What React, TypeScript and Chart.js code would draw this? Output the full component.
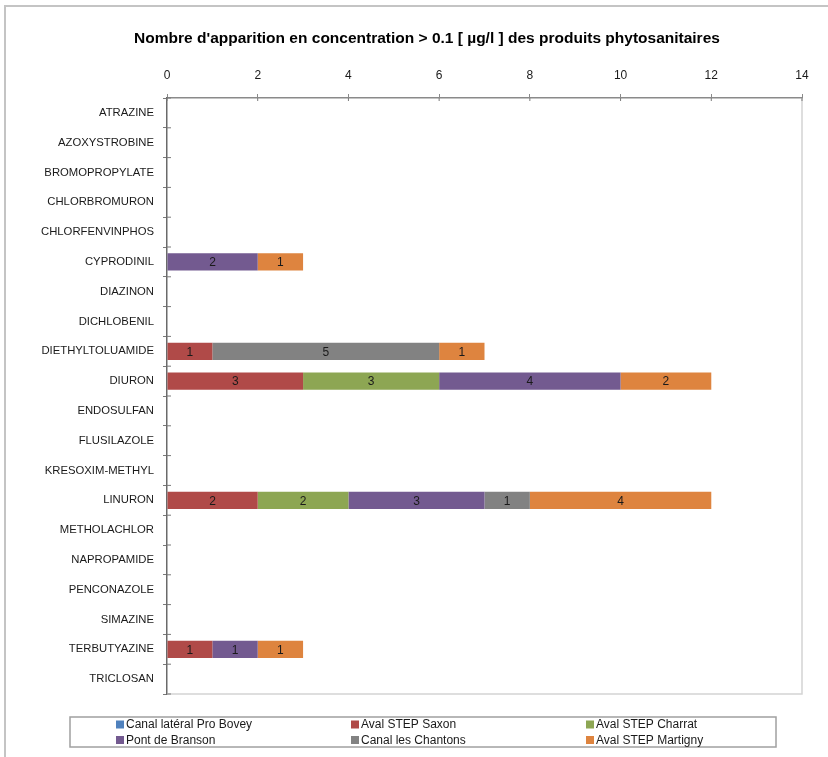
import React, { useEffect, useRef } from "react";
import { Chart, registerables } from "chart.js";

Chart.register(...registerables);

const TITLE = "Nombre d'apparition en concentration > 0.1 [ µg/l ] des produits phytosanitaires";

const categories = [
  "ATRAZINE", "AZOXYSTROBINE", "BROMOPROPYLATE", "CHLORBROMURON", "CHLORFENVINPHOS",
  "CYPRODINIL", "DIAZINON", "DICHLOBENIL", "DIETHYLTOLUAMIDE", "DIURON",
  "ENDOSULFAN", "FLUSILAZOLE", "KRESOXIM-METHYL", "LINURON", "METHOLACHLOR",
  "NAPROPAMIDE", "PENCONAZOLE", "SIMAZINE", "TERBUTYAZINE", "TRICLOSAN",
];

const canalLateral = [0, 0, 0, 0, 0, 0, 0, 0, 0, 0, 0, 0, 0, 0, 0, 0, 0, 0, 0, 0];
const avalSaxon = [0, 0, 0, 0, 0, 0, 0, 0, 1, 3, 0, 0, 0, 2, 0, 0, 0, 0, 1, 0];
const avalCharrat = [0, 0, 0, 0, 0, 0, 0, 0, 0, 3, 0, 0, 0, 2, 0, 0, 0, 0, 0, 0];
const pontBranson = [0, 0, 0, 0, 0, 2, 0, 0, 0, 4, 0, 0, 0, 3, 0, 0, 0, 0, 1, 0];
const canalChantons = [0, 0, 0, 0, 0, 0, 0, 0, 5, 0, 0, 0, 0, 1, 0, 0, 0, 0, 0, 0];
const avalMartigny = [0, 0, 0, 0, 0, 1, 0, 0, 1, 2, 0, 0, 0, 4, 0, 0, 0, 0, 1, 0];

const seriesNames = [
  "Canal latéral Pro Bovey", "Aval STEP Saxon", "Aval STEP Charrat",
  "Pont de Branson", "Canal les Chantons", "Aval STEP Martigny",
];
const seriesValues = [canalLateral, avalSaxon, avalCharrat, pontBranson, canalChantons, avalMartigny];
const seriesColors = ["#4F81BD", "#B04A48", "#8DA653", "#735A90", "#828282", "#DE843F"];

const xTicks = [0, 2, 4, 6, 8, 10, 12, 14];

const FONT = "'Liberation Sans', Arial, sans-serif";

const decorPlugin = {
  id: "decor",
  beforeDraw(chart: any) {
    const ctx = chart.ctx;
    ctx.save();
    ctx.fillStyle = "#ffffff";
    ctx.fillRect(0, 0, chart.width, chart.height);
    // outer frame
    ctx.strokeStyle = "#C4C4C4";
    ctx.lineWidth = 2;
    ctx.beginPath();
    ctx.moveTo(5, chart.height);
    ctx.lineTo(5, 6);
    ctx.lineTo(chart.width, 6);
    ctx.stroke();
    // title
    ctx.fillStyle = "#000";
    ctx.font = `bold 15.5px ${FONT}`;
    ctx.textAlign = "center";
    ctx.textBaseline = "middle";
    ctx.fillText(TITLE, 427, 39);
    ctx.restore();
  },
  afterDatasetsDraw(chart: any) {
    const ctx = chart.ctx;
    const ca = chart.chartArea;
    ctx.save();
    // right and bottom plot frame
    ctx.strokeStyle = "#D4D4D4";
    ctx.lineWidth = 1.5;
    ctx.beginPath();
    ctx.moveTo(ca.right, ca.top);
    ctx.lineTo(ca.right, ca.bottom);
    ctx.lineTo(ca.left, ca.bottom);
    ctx.stroke();
    // data labels
    ctx.fillStyle = "#1a1a1a";
    ctx.font = `12px ${FONT}`;
    ctx.textAlign = "center";
    ctx.textBaseline = "middle";
    chart.data.datasets.forEach((ds: any, di: number) => {
      const meta = chart.getDatasetMeta(di);
      meta.data.forEach((el: any, i: number) => {
        const v = ds.data[i];
        if (!v) return;
        const x = (el.x + el.base) / 2;
        ctx.fillText(String(v), x, el.y + 1);
      });
    });
    // cross ticks on y axis (right side)
    const ys = chart.scales.y;
    ctx.strokeStyle = "#7a7a7a";
    ctx.lineWidth = 1;
    for (let i = 0; i <= categories.length; i++) {
      const y = ys.top + (i * (ys.bottom - ys.top)) / categories.length;
      ctx.beginPath();
      ctx.moveTo(ca.left, y);
      ctx.lineTo(ca.left + 4, y);
      ctx.stroke();
    }
    const xs = chart.scales.x;
    xTicks.forEach((t) => {
      const x = xs.getPixelForValue(t);
      ctx.beginPath();
      ctx.moveTo(x, ca.top);
      ctx.lineTo(x, ca.top + 3);
      ctx.stroke();
    });
    // legend
    ctx.strokeStyle = "#A0A0A0";
    ctx.lineWidth = 1.5;
    ctx.strokeRect(70, 717, 706, 30);
    const colX = [116, 351, 586];
    const rowY = [724.5, 740];
    ctx.font = `12px ${FONT}`;
    ctx.textAlign = "left";
    ctx.textBaseline = "middle";
    chart.data.datasets.forEach((ds: any, di: number) => {
      const cx = colX[di % 3];
      const cy = rowY[Math.floor(di / 3)];
      ctx.fillStyle = ds.backgroundColor;
      ctx.fillRect(cx, cy - 4, 8, 8);
      ctx.fillStyle = "#1a1a1a";
      ctx.fillText(ds.label, cx + 10, cy + 0.5);
    });
    ctx.restore();
  },
};

export default function App() {
  const ref = useRef<HTMLCanvasElement | null>(null);
  useEffect(() => {
    if (!ref.current) return;
    const chart = new Chart(ref.current, {
      type: "bar",
      data: {
        labels: categories,
        datasets: seriesNames.map((name, i) => ({
          label: name,
          data: seriesValues[i],
          backgroundColor: seriesColors[i],
          borderWidth: 0,
          categoryPercentage: 1,
          barPercentage: 0.58,
        })),
      },
      options: {
        indexAxis: "y",
        animation: false,
        responsive: false,
        maintainAspectRatio: false,
        layout: { padding: { left: 0, top: 0, right: 26, bottom: 63 } },
        plugins: {
          legend: { display: false },
          title: { display: false },
          tooltip: { enabled: false },
        },
        scales: {
          x: {
            position: "top",
            stacked: true,
            min: 0,
            max: 14,
            afterBuildTicks: (scale: any) => {
              scale.ticks = xTicks.map((v) => ({ value: v }));
            },
            afterFit: (scale: any) => {
              scale.height = 98;
            },
            grid: { drawOnChartArea: false, drawTicks: true, tickLength: 4, color: "#8a8a8a" },
            border: { display: true, color: "#8a8a8a", width: 1.5 },
            ticks: { font: { family: FONT, size: 12 }, color: "#1a1a1a", padding: 11 },
          },
          y: {
            stacked: true,
            afterFit: (scale: any) => {
              scale.width = 167;
            },
            grid: { drawOnChartArea: false, drawTicks: true, tickLength: 4, color: "#7a7a7a", offset: true },
            border: { display: true, color: "#6a6a6a", width: 1.5 },
            ticks: { font: { family: FONT, size: 11.3 }, color: "#1a1a1a", padding: 9, autoSkip: false },
          },
        },
      },
      plugins: [decorPlugin],
    });
    return () => chart.destroy();
  }, []);
  return (
    <div style={{ position: "fixed", left: 0, top: 0, width: 828, height: 757, background: "#fff" }}>
      <canvas ref={ref} width={828} height={757} style={{ display: "block" }} />
    </div>
  );
}
